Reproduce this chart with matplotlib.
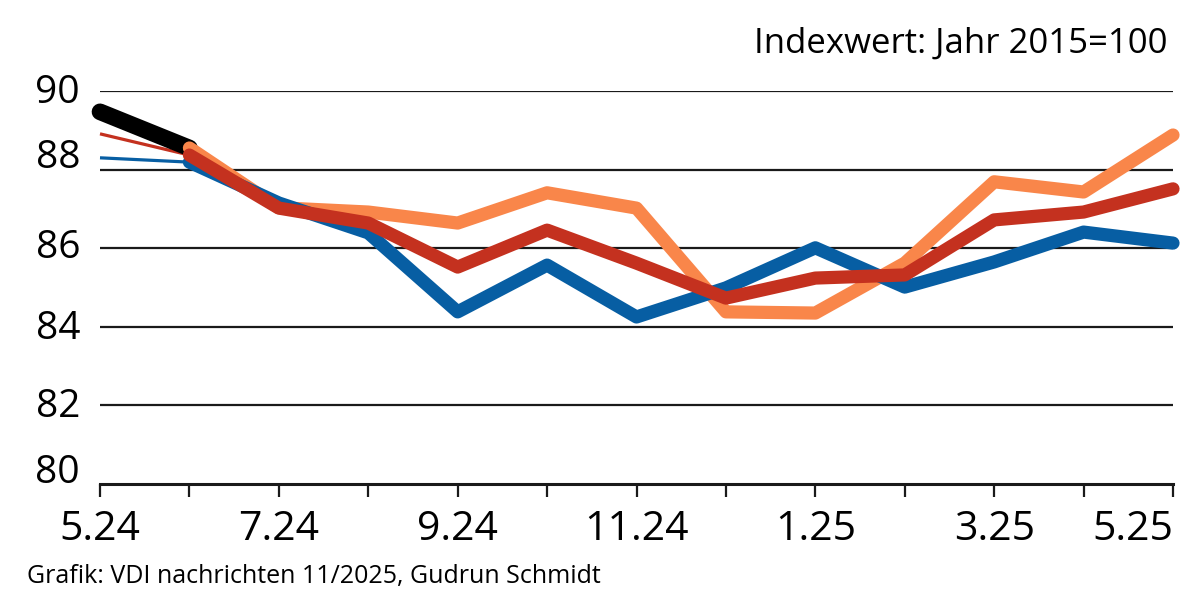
import matplotlib
matplotlib.use("Agg")
import matplotlib.pyplot as plt
import matplotlib.transforms as mtransforms

# =========================
# Data (index, 2015 = 100)
# =========================
MONTHS = ["5.24", "6.24", "7.24", "8.24", "9.24", "10.24", "11.24",
          "12.24", "1.25", "2.25", "3.25", "4.25", "5.25"]
XTICK_LABELS = ["5.24", "", "7.24", "", "9.24", "", "11.24",
                "", "1.25", "", "3.25", "", "5.25"]

# thick series run from 6.24 to 5.25
ORANGE = [88.55, 87.03, 86.92, 86.64, 87.41, 87.02, 84.38, 84.35, 85.62, 87.69, 87.43, 88.88]
BLUE = [88.19, 87.15, 86.39, 84.38, 85.57, 84.25, 84.99, 86.01, 85.01, 85.65, 86.41, 86.13]
RED = [88.37, 87.02, 86.64, 85.52, 86.46, 85.62, 84.73, 85.24, 85.32, 86.72, 86.92, 87.51]

# lead-in segments 5.24 -> 6.24
BLACK_START = [89.47, 88.55]
RED_START = [88.91, 88.37]
BLUE_START = [88.30, 88.19]

YTICKS = [80, 82, 84, 86, 88, 90]
GRID_LEVELS = [82, 84, 86, 88, 90]

C_BLUE = "#075ea3"
C_RED = "#c4311f"
C_ORANGE = "#f9864a"

TEXT_FONT = ["Open Sans", "DejaVu Sans"]


def main():
    fig = plt.figure(figsize=(12, 6), dpi=100)
    ax = fig.add_axes([100 / 1200, 116 / 600, 1073 / 1200, 393 / 600])

    x_all = list(range(len(MONTHS)))
    x_main = x_all[1:]
    x_lead = x_all[:2]

    # gridlines
    for lvl in GRID_LEVELS:
        ax.axhline(lvl, color="#1a1a1a", linewidth=1.6, zorder=1)

    # thin lead-in lines and black line
    ax.plot(x_lead, BLUE_START, color=C_BLUE, linewidth=2.3, zorder=2,
            solid_capstyle="butt", clip_on=False)
    ax.plot(x_lead, RED_START, color=C_RED, linewidth=2.3, zorder=2,
            solid_capstyle="butt", clip_on=False)
    ax.plot(x_lead, BLACK_START, color="black", linewidth=12, zorder=3,
            solid_capstyle="round", clip_on=False)

    # thick series
    for vals, col, z in [(ORANGE, C_ORANGE, 4), (BLUE, C_BLUE, 5), (RED, C_RED, 6)]:
        ax.plot(x_main, vals, color=col, linewidth=9.5, zorder=z,
                solid_capstyle="round", solid_joinstyle="round", clip_on=False)

    ax.set_xlim(0, len(MONTHS) - 1)
    ax.set_ylim(80, 90)

    for side in ["top", "right", "left"]:
        ax.spines[side].set_visible(False)
    ax.spines["bottom"].set_linewidth(2.2)
    ax.spines["bottom"].set_color("#1a1a1a")
    ax.spines["bottom"].set_bounds(0, len(MONTHS) - 1)

    ax.set_xticks(x_all)
    ax.set_xticklabels(XTICK_LABELS, family=TEXT_FONT, fontsize=29.5)
    ax.tick_params(axis="x", direction="out", length=9.5, width=1.6,
                   color="#1a1a1a", pad=9)
    # last label sits left of its tick, inside the frame
    ax.get_xticklabels()[-1].set_horizontalalignment("right")
    ax.set_yticks([])

    # y labels, two of them sit a little above their line
    nudges = [8, -1.5, -1.5, 0.5, 8.5, -1.5]
    for val, dy in zip(YTICKS, nudges):
        tr = mtransforms.offset_copy(ax.get_yaxis_transform(), fig=fig, x=0, y=dy, units="points")
        ax.text(-20 / 1073, val, str(val), transform=tr, ha="right", va="center",
                family=TEXT_FONT, fontsize=28, color="black")

    fig.text(1168 / 1200, 1 - 53 / 600, "Indexwert: Jahr 2015=100",
             ha="right", va="baseline", family=TEXT_FONT, fontsize=25)
    fig.text(27 / 1200, 1 - 583 / 600, "Grafik: VDI nachrichten 11/2025, Gudrun Schmidt",
             ha="left", va="baseline", family=TEXT_FONT, fontsize=18)

    fig.savefig("out.png", dpi=100)
    plt.close(fig)


if __name__ == "__main__":
    main()
